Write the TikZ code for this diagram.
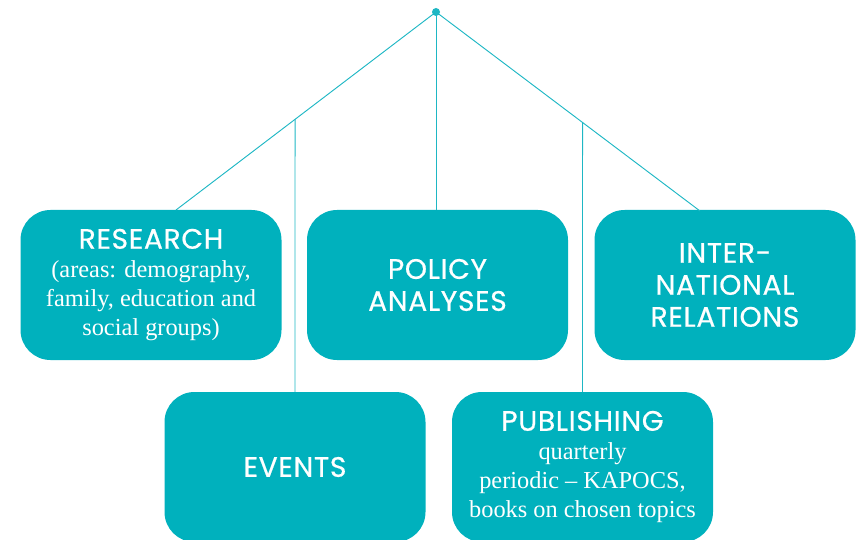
\documentclass[tikz,border=0pt]{standalone}
\usepackage{fontspec}
\setmainfont{Liberation Serif}
\newfontfamily\hdfont[LetterSpace=2.5,FakeBold=0.6]{Poppins}
\usepackage{tikz}
\definecolor{teal1}{RGB}{0,177,189}
\definecolor{teal2}{RGB}{30,183,196}
\newcommand{\hd}[1]{{\hdfont\fontsize{24}{27.3}\selectfont #1}}
\tikzset{
  topic/.style={fill=teal1,text=white,rounded corners=0.9cm,align=center,
    minimum width=7.83cm,minimum height=4.5cm,inner sep=0pt,
    font=\rmfamily\fontsize{20.8}{24.8}\selectfont},
  bigtopic/.style={topic,font=\hdfont\fontsize{24}{27.3}\selectfont},
  link/.style={draw=teal2,line width=0.8pt}
}

\begin{document}
\begin{tikzpicture}[y=-1cm]
\useasboundingbox (0,0) rectangle (25.77,16.2);

% boxes:
\path (4.53,8.55) node[topic] (research) {\hd{RESEARCH}\\(areas: demography,\\family, education and\\social groups)};
\path (13.125,8.55) node[bigtopic] (policy) {POLICY\\ANALYSES};
\path (21.75,8.55) node[bigtopic] (intl) {INTER-\\NATIONAL\\RELATIONS};
\path (8.85,14.01) node[bigtopic] (events) {EVENTS};
\path (17.475,14.01) node[topic] (publishing) {\hd{PUBLISHING}\\quarterly\\periodic -- KAPOCS,\\books on chosen topics};

% tree:
\path (13.08,0.36) node[circle,fill=teal2,inner sep=0pt,minimum size=0.24cm] (root) {};
\coordinate (lend) at (5.28,6.3);
\coordinate (rend) at (21.0,6.33);
\coordinate (evtap) at (intersection of root.center--lend and events.center--events.north);
\coordinate (pubtap) at (intersection of root.center--rend and publishing.center--publishing.north);
\draw[link] (root.center) -- (lend);
\draw[link] (root.center) -- (rend);
\draw[link] (root.center) -- (root.center |- policy.north);
\draw[link] (evtap) -- (events.north);
\draw[link] (pubtap) -- (publishing.north);

\end{tikzpicture}
\end{document}
